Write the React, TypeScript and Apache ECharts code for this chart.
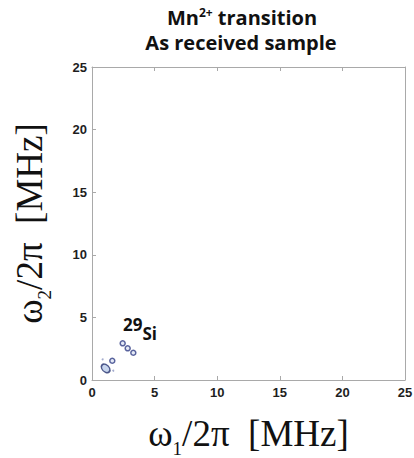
import React, { useEffect, useRef } from "react";
import * as echarts from "echarts";

const xTicks = [0, 5, 10, 15, 20, 25];
const yTicks = [0, 5, 10, 15, 20, 25];
const ringX = [2.45, 2.85, 3.3, 1.62];
const ringY = [2.93, 2.53, 2.18, 1.54];
const mainPeak = [1.09, 0.93];
const dotX = [0.85, 1.7];
const dotY = [1.65, 0.74];
const titleLine1 = ["Mn", "2+", " transition"];
const titleLine2 = "As received sample";
const annotation = ["29", "Si"];

export default function App() {
  const ref = useRef<HTMLDivElement>(null);
  useEffect(() => {
    document.body.style.margin = "0";
    const chart = echarts.init(ref.current!, null, { renderer: "svg" });
    const axisColor = "#a9a9a9";
    const labelStyle = {
      color: "#1e1e1e",
      fontFamily: "Arial",
      fontWeight: "bold" as const,
      fontSize: 13,
    };
    const serif = "Liberation Serif";
    const nameRich = {
      w: { fontFamily: serif, fontSize: 37, color: "#111", padding: [0, 0, 6, 0] },
      s: { fontFamily: serif, fontSize: 19, color: "#111", verticalAlign: "bottom" as const },
    };
    const min = xTicks[0];
    const max = xTicks[xTicks.length - 1];
    const interval = xTicks[1] - xTicks[0];
    const titleFont = "Open Sans";
    chart.setOption({
      animation: false,
      backgroundColor: "#fff",
      grid: { left: 92, top: 67, width: 313, height: 313, containLabel: false, outerBoundsMode: "none" },
      xAxis: [
        {
          type: "value",
          min,
          max,
          interval,
          position: "bottom",
          splitLine: { show: false },
          axisLine: { show: true, onZero: false, lineStyle: { color: axisColor, width: 1 } },
          axisTick: { show: true, inside: true, length: 4, lineStyle: { color: axisColor } },
          axisLabel: { ...labelStyle, margin: 6 },
          name: "{w|ω}{s|1}{w|/2π  [MHz]}",
          nameLocation: "middle",
          nameGap: 35,
          nameTextStyle: { rich: nameRich },
        },
        {
          type: "value",
          min,
          max,
          interval,
          position: "top",
          splitLine: { show: false },
          axisLine: { show: true, onZero: false, lineStyle: { color: axisColor, width: 1 } },
          axisTick: { show: true, inside: true, length: 4, lineStyle: { color: axisColor } },
          axisLabel: { show: false },
        },
      ],
      yAxis: [
        {
          type: "value",
          min: yTicks[0],
          max: yTicks[yTicks.length - 1],
          interval: yTicks[1] - yTicks[0],
          position: "left",
          splitLine: { show: false },
          axisLine: { show: true, onZero: false, lineStyle: { color: axisColor, width: 1 } },
          axisTick: { show: true, inside: true, length: 4, lineStyle: { color: axisColor } },
          axisLabel: { ...labelStyle, margin: 5 },
          name: "{w|ω}{s|2}{w|/2π  [MHz]}",
          nameLocation: "middle",
          nameGap: 38,
          nameRotate: 90,
          nameTextStyle: { rich: nameRich },
        },
        {
          type: "value",
          min: yTicks[0],
          max: yTicks[yTicks.length - 1],
          interval: yTicks[1] - yTicks[0],
          position: "right",
          splitLine: { show: false },
          axisLine: { show: true, onZero: false, lineStyle: { color: axisColor, width: 1 } },
          axisTick: { show: false },
          axisLabel: { show: false },
        },
      ],
      series: [
        {
          type: "scatter",
          data: [mainPeak],
          symbol: "circle",
          symbolSize: [10, 7],
          symbolRotate: -45,
          itemStyle: { color: "#b9cbe8", borderColor: "#27336f", borderWidth: 1.5 },
        },
        {
          type: "scatter",
          data: ringX.map((x, i) => [x, ringY[i]]),
          symbol: "circle",
          symbolSize: 5,
          itemStyle: { color: "#dfe5f4", borderColor: "#323f86", borderWidth: 1.5 },
        },
        {
          type: "scatter",
          data: dotX.map((x, i) => [x, dotY[i]]),
          symbol: "circle",
          symbolSize: 2,
          itemStyle: { color: "#8d97c2" },
        },
      ],
      graphic: [
        {
          type: "text",
          x: 242,
          y: 17,
          style: {
            text: `{a|${titleLine1[0]}}{sup|${titleLine1[1]}}{a|${titleLine1[2]}}`,
            align: "center",
            verticalAlign: "middle",
            rich: {
              a: { fontFamily: titleFont, fontWeight: "bold", fontSize: 20, fill: "#111" },
              sup: { fontFamily: titleFont, fontWeight: "bold", fontSize: 12, fill: "#111", verticalAlign: "top", padding: [0, 0, 10, 0] },
            },
          },
        },
        {
          type: "text",
          x: 241,
          y: 42,
          style: {
            text: titleLine2,
            align: "center",
            verticalAlign: "middle",
            fontFamily: titleFont,
            fontWeight: "bold",
            fontSize: 20,
            fill: "#111",
          },
        },
        {
          type: "text",
          x: 123,
          y: 329,
          style: {
            text: `{n|${annotation[0]}}{e|${annotation[1]}}`,
            verticalAlign: "middle",
            rich: {
              n: { fontFamily: titleFont, fontWeight: "bold", fontSize: 17, fill: "#111", padding: [0, 0, 9, 0] },
              e: { fontFamily: titleFont, fontWeight: "bold", fontSize: 17, fill: "#111", padding: [9, 0, 0, 0] },
            },
          },
        },
      ],
    });
    return () => chart.dispose();
  }, []);
  return <div ref={ref} style={{ width: 414, height: 458 }} />;
}
